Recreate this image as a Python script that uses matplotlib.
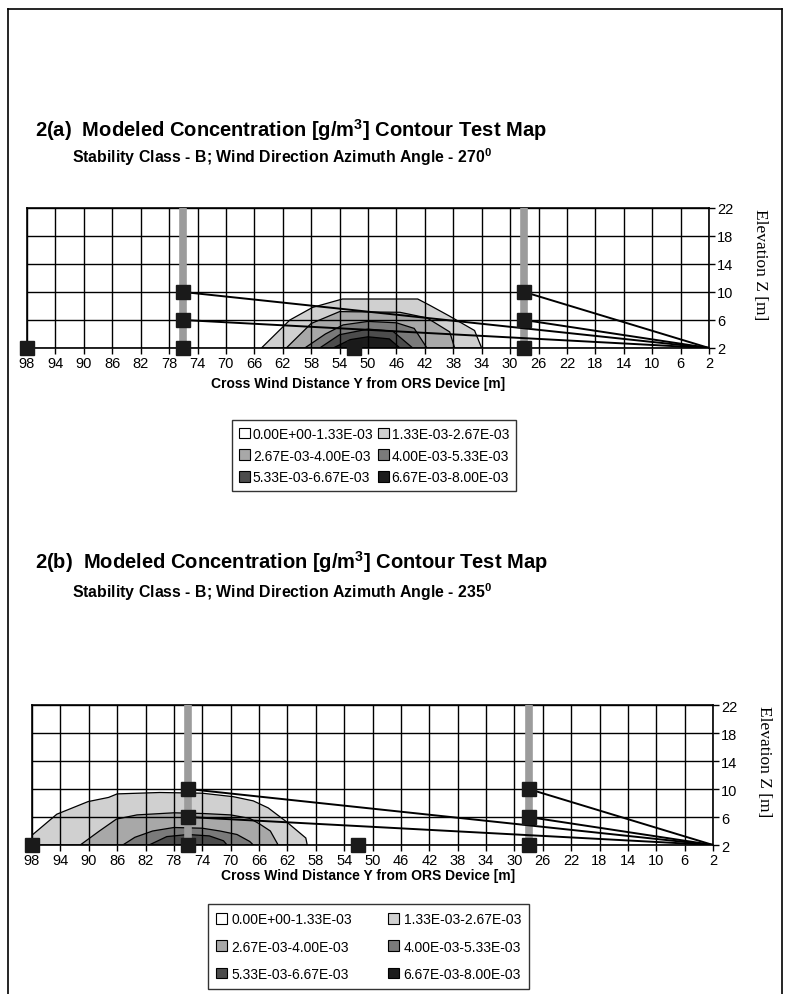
import matplotlib.pyplot as plt
from matplotlib.lines import Line2D
from matplotlib.patches import Patch

plt.rcParams['font.family'] = ['Liberation Sans', 'DejaVu Sans']
plt.rcParams['mathtext.fontset'] = 'custom'
plt.rcParams['mathtext.rm'] = 'Liberation Sans'
plt.rcParams['mathtext.bf'] = 'Liberation Sans:bold'

# --- Data ---
Y_TICKS = list(range(98, 1, -4))      # cross wind distance ticks
Z_TICKS = [2, 6, 10, 14, 18, 22]      # elevation ticks
TOWERS = [76, 28]                     # vertical scanning towers
MARKER_Y = [98, 76, 76, 76, 52, 28, 28, 28]   # retro-reflector positions
MARKER_Z = [2, 2, 6, 10, 2, 2, 6, 10]
DEVICE = (2, 2)                       # ORS device
PATH_ENDS = [(76, 10), (76, 6), (28, 10), (28, 6)]

LEVEL_LABELS = ['0.00E+00-1.33E-03', '1.33E-03-2.67E-03', '2.67E-03-4.00E-03',
                '4.00E-03-5.33E-03', '5.33E-03-6.67E-03', '6.67E-03-8.00E-03']
LEVEL_COLORS = ['white', '#d0d0d0', '#a8a8a8', '#7a7a7a', '#4c4c4c', '#1c1c1c']

# contour band outlines (Y, Z); band n = concentration above level n
A_BAND1 = [(65, 2), (61, 6), (57.8, 7.8), (53.6, 9), (43, 9), (41.3, 8.1),
           (38.6, 6.6), (35, 4.5), (34, 2)]
A_BAND2 = [(61.5, 2), (58, 5.5), (54, 7.2), (45.5, 7.1), (41.7, 6.3),
           (38.5, 4.3), (37.8, 2)]
A_BAND3 = [(58.9, 2), (56, 4), (53.5, 5.3), (50, 5.8), (46, 5.6), (43.5, 4.8), (41.7, 2)]
A_BAND4 = [(56.8, 2), (54, 3.9), (50, 4.7), (46.5, 4.4), (43.7, 2)]
A_BAND5 = [(54.9, 2), (52.5, 3.2), (50, 3.6), (47, 3.3), (45.5, 2)]

B_BAND1 = [(98, 2), (98, 3.4), (94.5, 6.4), (90.1, 8.2), (87.2, 8.8), (86, 9.3),
           (80, 9.5), (74, 9.4), (69.6, 8.9), (66.8, 8.3), (64.7, 7.3),
           (62.1, 5.3), (59.4, 3), (59.2, 2)]
B_BAND2 = [(91.2, 2), (88.5, 4), (86.1, 5.7), (83.2, 6.3), (78, 6.6), (73.9, 6.5),
           (70, 6.3), (67.3, 5.8), (65.9, 5.0), (64.4, 4.0), (63.3, 2)]
B_BAND3 = [(85.2, 2), (83.5, 3.1), (81, 4.0), (78, 4.5), (74, 4.4), (71.5, 4.0),
           (69.1, 3.5), (67.3, 2.5), (66.8, 2)]
B_BAND4 = [(81.5, 2), (79, 3.2), (76, 3.5), (73, 3.3), (71, 2.6), (70.5, 2)]


def draw_map(ax, bands, xlabel_pos):
    for i, band in enumerate(bands):
        ax.fill([p[0] for p in band], [p[1] for p in band],
                facecolor=LEVEL_COLORS[i + 1], edgecolor='black', lw=0.9, zorder=1)

    ax.set_xlim(98, 2)
    ax.set_ylim(2, 22)
    ax.set_xticks(Y_TICKS)
    ax.set_yticks(Z_TICKS)
    ax.grid(True, color='black', lw=1.0)
    ax.set_axisbelow(False)
    ax.yaxis.tick_right()
    ax.tick_params(axis='both', direction='out', length=4, width=1, labelsize=10.5, pad=2)
    for s in ax.spines.values():
        s.set_linewidth(1.2)

    for t in TOWERS:
        ax.axvline(t, color='#9c9c9c', lw=5.5, zorder=2.6)

    for y, z in PATH_ENDS:
        ax.plot([DEVICE[0], y], [DEVICE[1], z], color='black', lw=1.4, zorder=3)

    ax.plot(MARKER_Y, MARKER_Z, 's', color='#1a1a1a', ms=9.5, clip_on=False, zorder=4)

    ax.text(xlabel_pos[0], xlabel_pos[1], 'Cross Wind Distance Y from ORS Device [m]',
            transform=ax.transAxes, ha='center', va='center',
            fontsize=10, fontweight='bold')
    ax.text(1.075, 0.6, 'Elevation Z [m]', transform=ax.transAxes, rotation=-90,
            ha='center', va='center', fontsize=12.5, family='Liberation Serif')


fig = plt.figure(figsize=(7.87, 9.95), dpi=100)

# page frame
for xs, ys in [([8, 8], [10, 995]), ([8, 782], [10, 10]), ([782, 782], [10, 995])]:
    fig.add_artist(Line2D([x / 787 for x in xs], [1 - y / 995 for y in ys],
                          color='black', lw=1.2))

ax_a = fig.add_axes([27 / 787, 1 - 349 / 995, 682 / 787, 140 / 995])
ax_b = fig.add_axes([32 / 787, 1 - 846 / 995, 681 / 787, 140 / 995])

draw_map(ax_a, [A_BAND1, A_BAND2, A_BAND3, A_BAND4, A_BAND5], (0.485, -0.25))
draw_map(ax_b, [B_BAND1, B_BAND2, B_BAND3, B_BAND4], (0.493, -0.215))

titles = [('2(a)', '270', 137, 163), ('2(b)', '235', 569, 598)]
for tag, angle, ty, sy in titles:
    fig.text(35 / 787, 1 - ty / 995,
             tag + r'  Modeled Concentration [g/m$^{\mathbf{3}}$] Contour Test Map',
             fontsize=14.5, fontweight='bold', va='baseline')
    fig.text(72 / 787, 1 - sy / 995,
             'Stability Class - B; Wind Direction Azimuth Angle - ' + angle + r'$^{\mathbf{0}}$',
             fontsize=11.4, fontweight='bold', va='baseline')

handles = [Patch(facecolor=c, edgecolor='black', lw=0.8) for c in LEVEL_COLORS]
order = [0, 2, 4, 1, 3, 5]
for anchor, lsp, csp, bpad, tpad in [((232 / 787, 1 - 421 / 995), 0.55, 0.3, 0.5, 0.2),
                                     ((208 / 787, 1 - 905 / 995), 0.95, 2.6, 0.6, 0.3)]:
    leg = fig.legend([handles[i] for i in order], [LEVEL_LABELS[i] for i in order],
                     ncol=2, loc='upper left', bbox_to_anchor=anchor, fontsize=10,
                     frameon=True, fancybox=False, edgecolor='black',
                     handlelength=0.8, handleheight=0.8, handletextpad=tpad,
                     columnspacing=csp, labelspacing=lsp, borderpad=bpad,
                     borderaxespad=0)
    leg.get_frame().set_linewidth(1.0)

fig.savefig('out.png', dpi=100)
